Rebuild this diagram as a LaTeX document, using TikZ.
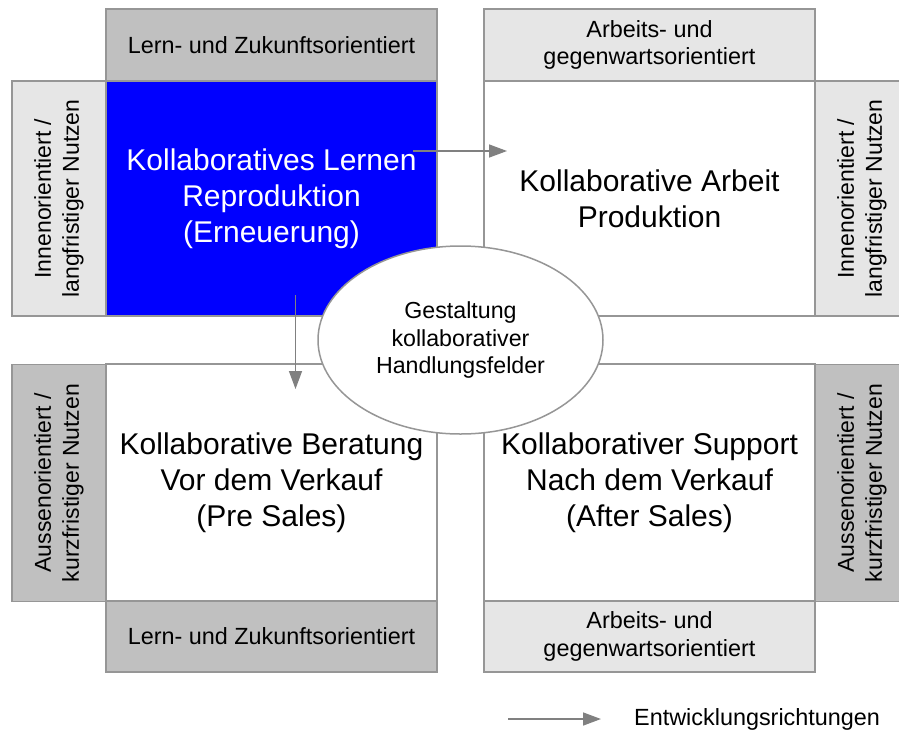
\documentclass[tikz,border=0pt]{standalone}
\usepackage{fontspec}
\setmainfont{Liberation Sans}
\usetikzlibrary{shapes.geometric,arrows.meta}
\definecolor{edgegray}{RGB}{150,150,150}
\definecolor{arrowgray}{RGB}{128,128,128}
\definecolor{bardark}{RGB}{192,192,192}
\definecolor{barlight}{RGB}{230,230,230}
\definecolor{fieldblue}{RGB}{0,0,255}
\begin{document}
\begin{tikzpicture}[x=1pt,y=-1pt,
  panel/.style={draw=edgegray,line width=1.5pt,inner sep=0pt,outer sep=0pt,align=center},
  field/.style={panel,fill=white,minimum width=331pt,font=\fontsize{30}{36}\selectfont},
  bar/.style={panel,minimum width=331pt,font=\fontsize{23.4}{27.5}\selectfont},
  side/.style={panel,rotate=90,minimum height=94pt,font=\fontsize{23}{28}\selectfont},
  hub/.style={ellipse,draw=edgegray,line width=1.5pt,fill=white,inner sep=0pt,
    minimum width=285pt,minimum height=188pt,align=center,font=\fontsize{23.2}{27.5}\selectfont},
  flow/.style={draw=arrowgray,line width=1.5pt,-{Triangle[length=18pt,width=13pt]}},
  legendtext/.style={anchor=west,inner sep=0pt,font=\fontsize{23.4}{27.5}\selectfont}
]
\useasboundingbox (0,0) rectangle (899,731);
\clip (0,0) rectangle (899,731);

% upper row: learning and working fields
\node[field,fill=fieldblue,text=white,minimum height=235pt] (learn) at (271.5,198.5)
  {Kollaboratives Lernen\\Reproduktion\\(Erneuerung)};
\node[bar,fill=bardark,minimum height=72pt] (learnbar) at (271.5,45)
  {Lern- und Zukunftsorientiert};
\node[side,fill=barlight,minimum width=235pt] (learnside) at (59,198.5)
  {Innenorientiert /\\langfristiger Nutzen};

\node[field,minimum height=235pt] (work) at (649.5,198.5)
  {Kollaborative Arbeit\\Produktion};
\node[bar,fill=barlight,minimum height=72pt] (workbar) at (649.5,45)
  {Arbeits- und\\gegenwartsorientiert};
\node[side,fill=barlight,minimum width=235pt] (workside) at (862,198.5)
  {Innenorientiert /\\langfristiger Nutzen};

% lower row: pre sales and after sales fields
\node[field,minimum height=237pt] (presale) at (271.5,482.5)
  {Kollaborative Beratung\\Vor dem Verkauf\\(Pre Sales)};
\node[bar,fill=bardark,minimum height=71pt] (presalebar) at (271.5,636.5)
  {Lern- und Zukunftsorientiert};
\node[side,fill=bardark,minimum width=237pt] (presaleside) at (59,483)
  {Aussenorientiert /\\kurzfristiger Nutzen};

\node[field,minimum height=237pt] (aftersale) at (649.5,482.5)
  {Kollaborativer Support\\Nach dem Verkauf\\(After Sales)};
\node[bar,fill=barlight,minimum height=71pt] (aftersalebar) at (649.5,636.5)
  {Arbeits- und\\gegenwartsorientiert};
\node[side,fill=bardark,minimum width=237pt] (aftersaleside) at (862,483)
  {Aussenorientiert /\\kurzfristiger Nutzen};

% central ellipse
\node[hub] (hub) at (460.5,340)
  {Gestaltung\\kollaborativer\\Handlungsfelder};

% development directions
\coordinate (learnout) at (413,151);
\coordinate (workin) at (507,151);
\coordinate (learndown) at (295.5,295);
\coordinate (presalein) at (295.5,389);
\draw[flow] (learnout) -- (workin);
\draw[flow] (learndown) -- (presalein);

% legend
\coordinate (legstart) at (508,719);
\coordinate (legend) at (601,719);
\draw[flow] (legstart) -- (legend);
\node[legendtext] (legendlabel) at (634,719) {Entwicklungsrichtungen};
\end{tikzpicture}
\end{document}
